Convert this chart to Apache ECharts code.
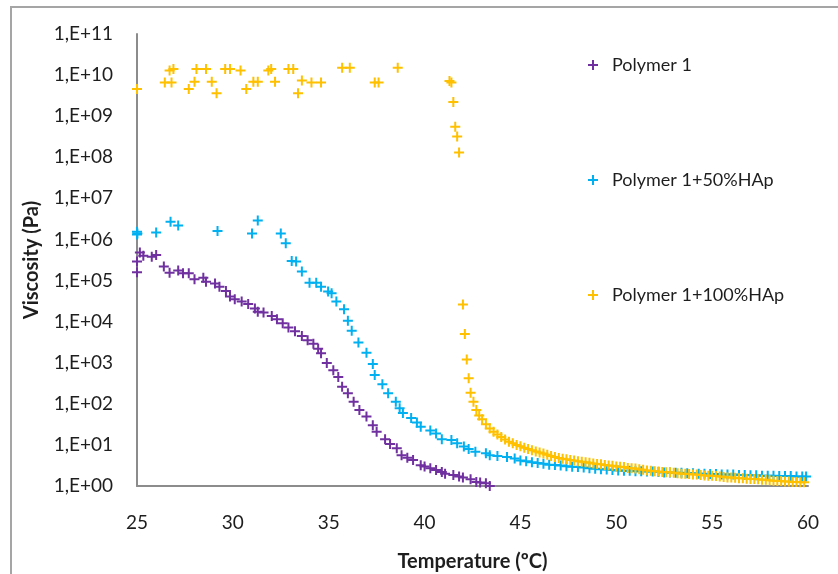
<!DOCTYPE html>
<html>
<head>
<meta charset="utf-8">
<script src="https://cdn.jsdelivr.net/npm/echarts@6/dist/echarts.min.js"></script>
<style>
html,body{margin:0;padding:0;background:#fff;}
#c{width:838px;height:574px;}
</style>
</head>
<body>
<div id="c"></div>
<script>
// ---- Data ----
const seriesNames = ['Polymer 1', 'Polymer 1+50%HAp', 'Polymer 1+100%HAp'];
const xTicks = [25, 30, 35, 40, 45, 50, 55, 60];
const yTickExponents = [0,1,2,3,4,5,6,7,8,9,10,11];

const p1Temp = [25.0,25.0,25.15,25.33,25.77,26.0,26.4,26.7,27.15,27.4,
  27.7,28.0,28.46,28.6,29.07,29.3,29.64,29.85,30.1,30.46,
  30.8,31.15,31.3,31.6,32.03,32.3,32.6,32.9,33.24,33.6,
  33.9,34.2,34.45,34.6,34.9,35.24,35.5,35.7,36.0,36.3,
  36.6,36.97,37.3,37.5,37.94,38.2,38.55,38.8,39.1,39.4,
  39.8,40.0,40.3,40.6,40.9,41.07,41.5,41.8,42.0,42.4,
  42.7,42.9,43.2,43.4];
const p1Visc = [1.6e5,2.9e5,4.8e5,4.0e5,3.8e5,4.2e5,2.2e5,1.55e5,1.75e5,1.5e5,
  1.5e5,1.07e5,1.17e5,9.3e4,8.5e4,7.1e4,5.6e4,4.1e4,3.5e4,3.1e4,
  2.7e4,2.1e4,1.74e4,1.66e4,1.38e4,1.15e4,9.1e3,7.2e3,5.8e3,4.5e3,
  3.5e3,2.9e3,2.2e3,1.7e3,980,660,450,260,180,112,
  71,49,30,21,13.8,10.5,8.3,5.6,4.9,4.3,
  3.2,3.0,2.7,2.45,2.2,2.0,1.86,1.7,1.62,1.45,
  1.26,1.22,1.17,1.0];

const p50Temp = [25.0,25.0,25.02,26.0,26.75,27.15,29.2,31.0,31.3,32.5,
  32.76,33.07,33.3,33.6,34.0,34.35,34.6,34.97,35.15,35.4,
  35.8,36.0,36.2,36.55,36.97,37.3,37.4,37.8,38.1,38.5,
  38.7,38.87,39.3,39.6,39.8,40.3,40.6,40.9,41.4,41.7,
  42.05,42.3,42.65,43.2,43.4,43.8,44.3,44.7,
  45.0,45.3,45.6,45.9,46.2,46.5,46.8,47.1,47.4,47.7,
  48.0,48.3,48.6,48.9,49.2,49.5,49.8,50.1,50.4,50.7,
  51.0,51.3,51.6,51.9,52.2,52.5,52.8,53.1,53.4,53.7,
  54.0,54.3,54.6,54.9,55.2,55.5,55.8,56.1,56.4,56.7,
  57.0,57.3,57.6,57.9,58.2,58.5,58.8,59.1,59.4,59.7,59.9];
const p50Visc = [1.55e6,1.32e6,1.4e6,1.48e6,2.7e6,2.2e6,1.6e6,1.4e6,2.9e6,1.4e6,
  8.1e5,3.0e5,2.9e5,1.66e5,8.9e4,8.9e4,7.1e4,5.4e4,4.9e4,3.1e4,
  2.0e4,1.05e4,6.0e3,3.1e3,1.74e3,930,500,300,180,112,
  78,60,45,35,27.5,22.4,19,13.8,13.2,11,
  9.1,7.9,6.8,6.3,5.6,5.4,5.1,4.7,
  4.17,3.98,3.80,3.63,3.47,3.31,3.24,3.16,3.02,2.95,
  2.88,2.82,2.69,2.63,2.57,2.51,2.45,2.40,2.34,2.34,
  2.29,2.29,2.24,2.24,2.19,2.14,2.14,2.09,2.09,2.04,
  2.04,2.0,2.0,1.95,1.95,1.91,1.91,1.91,1.86,1.86,
  1.82,1.82,1.78,1.78,1.78,1.74,1.74,1.74,1.70,1.70,1.70];

const p100Temp = [25.0,26.45,26.7,26.8,26.9,27.7,28.0,28.1,28.6,28.9,
  29.15,29.6,29.85,30.4,30.7,31.07,31.3,31.85,32.0,32.2,
  32.9,33.15,33.4,33.6,34.1,34.6,35.7,36.1,37.4,37.6,
  38.6,41.3,41.4,41.5,41.6,41.7,41.8,42.0,42.1,42.2,
  42.3,42.4,42.55,42.7,42.85,
  43.0,43.2,43.4,43.6,43.8,44.0,44.2,44.4,44.6,44.8,
  45.0,45.2,45.4,45.6,45.8,46.0,46.2,46.4,46.6,46.8,
  47.0,47.2,47.4,47.6,47.8,48.0,48.2,48.4,48.6,48.8,
  49.0,49.2,49.4,49.6,49.8,50.0,50.2,50.4,50.6,50.8,
  51.0,51.2,51.4,51.6,51.8,52.0,52.2,52.4,52.6,52.8,
  53.0,53.2,53.4,53.6,53.8,54.0,54.2,54.4,54.6,54.8,
  55.0,55.2,55.4,55.6,55.8,56.0,56.2,56.4,56.6,56.8,
  57.0,57.2,57.4,57.6,57.8,58.0,58.2,58.4,58.6,58.8,
  59.0,59.2,59.4,59.6,59.8];
const p100Visc = [4.6e9,6.6e9,1.3e10,6.6e9,1.4e10,4.6e9,6.9e9,1.4e10,1.4e10,6.9e9,
  3.6e9,1.4e10,1.4e10,1.3e10,4.6e9,6.9e9,6.9e9,1.3e10,1.4e10,6.9e9,
  1.4e10,1.4e10,3.6e9,7.4e9,6.6e9,6.6e9,1.5e10,1.5e10,6.6e9,6.6e9,
  1.5e10,7.2e9,6.6e9,2.2e9,5.5e8,3.2e8,1.3e8,2.6e4,5.0e3,1.2e3,
  420,186,112,71,52,
  42,32,25,21,17.8,15.5,13.5,12.0,11.0,10.0,
  9.3,8.5,7.9,7.4,6.9,6.5,6.2,5.75,5.4,5.1,
  4.8,4.6,4.5,4.3,4.2,4.0,3.9,3.8,3.7,3.55,
  3.45,3.4,3.25,3.15,3.1,3.0,2.95,2.9,2.75,2.7,
  2.65,2.55,2.5,2.4,2.35,2.3,2.25,2.2,2.15,2.15,
  2.1,2.05,2.0,2.0,1.95,1.9,1.9,1.85,1.8,1.78,
  1.78,1.74,1.7,1.66,1.62,1.62,1.58,1.55,1.55,1.51,
  1.48,1.48,1.45,1.41,1.41,1.38,1.35,1.32,1.32,1.29,
  1.29,1.26,1.26,1.23,1.23];

const colors = ['#7030A0', '#00B0F0', '#FFC000'];

// ---- Chart ----
const zip = (xs, ys) => xs.map((x, i) => [x, ys[i]]);
const plus = 'path://M4,0H6V4H10V6H6V10H4V6H0V4H4Z';
const font = 'Lato, "Open Sans", sans-serif';
const txt = '#1e1e1e';

const chart = echarts.init(document.getElementById('c'), null, {renderer: 'canvas'});
const pairs = [[p1Temp, p1Visc], [p50Temp, p50Visc], [p100Temp, p100Visc]];

chart.setOption({
  animation: false,
  backgroundColor: '#fff',
  color: colors,
  graphic: [{
    type: 'rect', silent: true, z: -1,
    shape: {x: 11, y: 7, width: 900, height: 700},
    style: {fill: 'none', stroke: '#a5a5a5', lineWidth: 2}
  }],
  grid: {left: 137, right: 30, top: 34, bottom: 88, containLabel: false, outerBoundsMode: 'none'},
  legend: {
    orient: 'vertical',
    left: 583, top: 51,
    itemGap: 97,
    itemWidth: 10, itemHeight: 10,
    data: seriesNames,
    textStyle: {fontFamily: font, fontSize: 18, color: txt, padding: [0, 0, 0, 9]}
  },
  xAxis: {
    type: 'value',
    min: xTicks[0], max: xTicks[xTicks.length - 1], interval: 5,
    name: 'Temperature (ºC)',
    nameLocation: 'middle', nameGap: 66,
    nameTextStyle: {fontFamily: font, fontSize: 20, fontWeight: 'bold', color: txt},
    axisLine: {show: true, onZero: false, lineStyle: {color: '#8c8c8c', width: 2}},
    axisTick: {show: false},
    splitLine: {show: false},
    axisLabel: {fontFamily: font, fontSize: 19, color: txt, margin: 27}
  },
  yAxis: {
    type: 'log', logBase: 10,
    min: Math.pow(10, yTickExponents[0]),
    max: Math.pow(10, yTickExponents[yTickExponents.length - 1]),
    interval: 1,
    name: 'Viscosity (Pa)',
    nameLocation: 'middle', nameGap: 95,
    nameTextStyle: {fontFamily: font, fontSize: 20, fontWeight: 'bold', color: txt},
    axisLine: {show: true, lineStyle: {color: '#8c8c8c', width: 2}},
    axisTick: {show: false},
    splitLine: {show: false},
    axisLabel: {
      fontFamily: font, fontSize: 19, color: txt, margin: 24,
      formatter: v => {
        const e = Math.round(Math.log10(v));
        return '1,E+' + (e < 10 ? '0' + e : '' + e);
      }
    }
  },
  series: seriesNames.map((n, i) => ({
    name: n,
    type: 'scatter',
    symbol: plus,
    symbolSize: 10,
    itemStyle: {color: colors[i], opacity: 1},
    data: zip(pairs[i][0], pairs[i][1])
  }))
});
</script>
</body>
</html>
